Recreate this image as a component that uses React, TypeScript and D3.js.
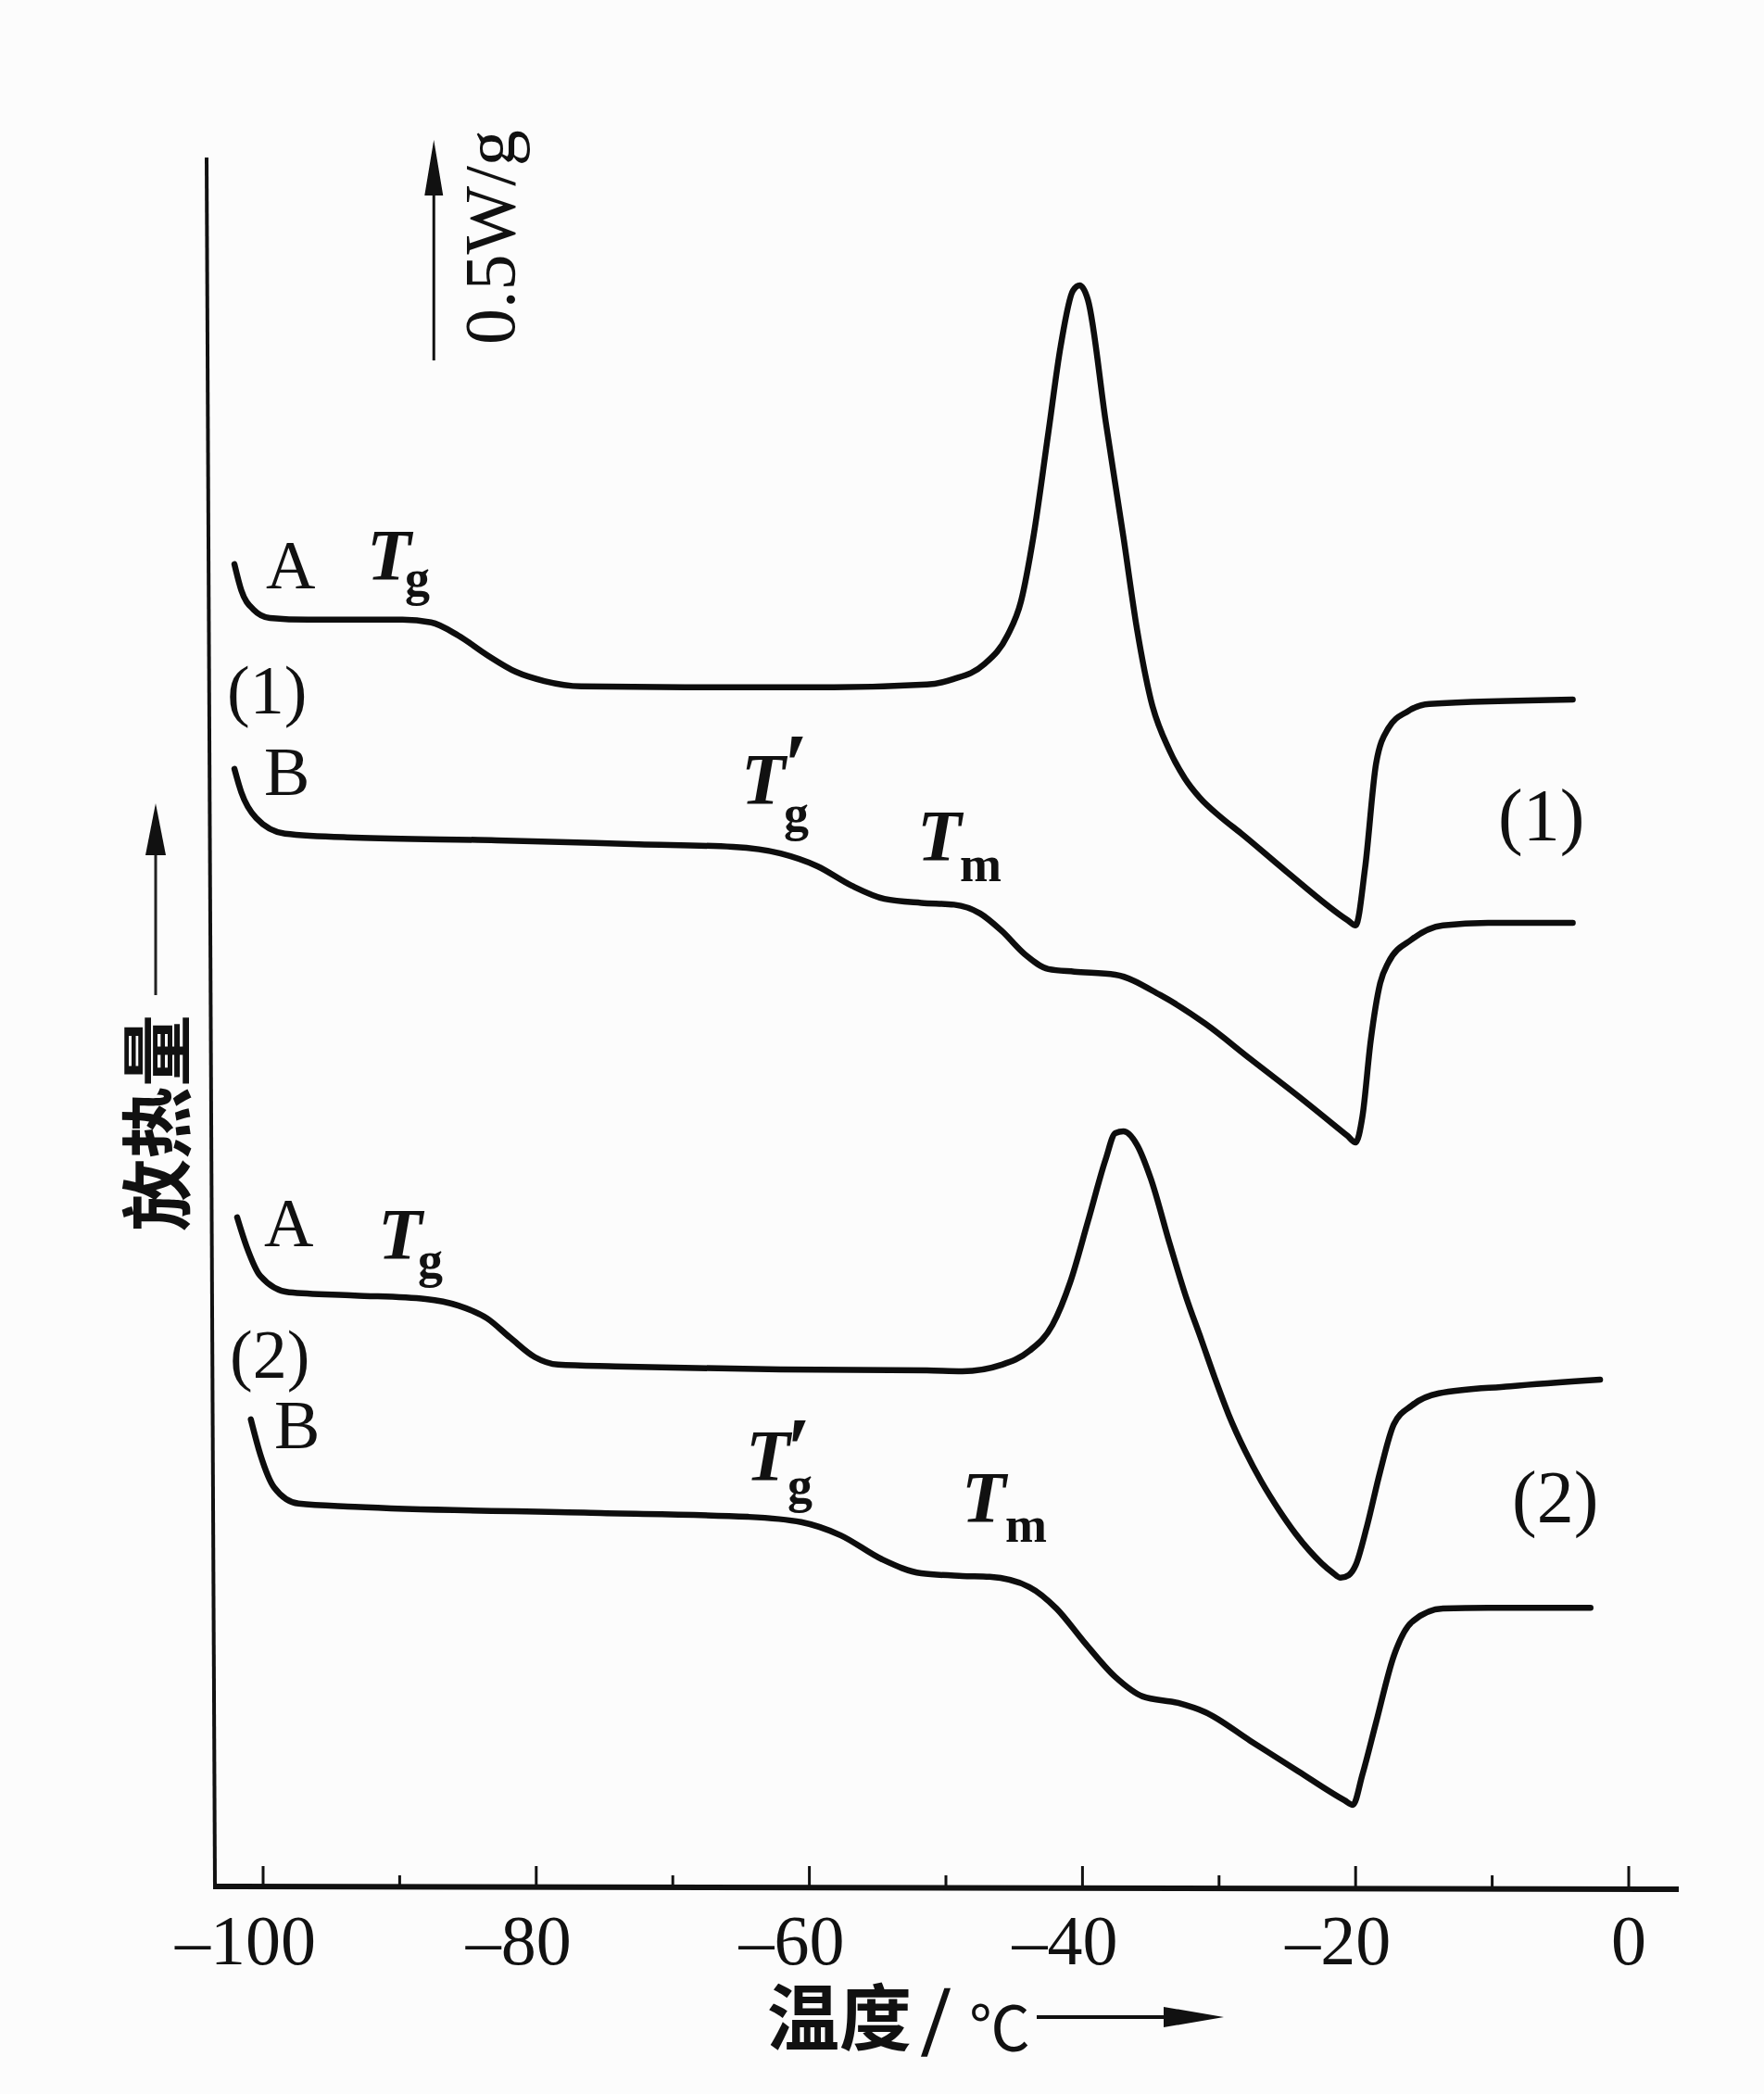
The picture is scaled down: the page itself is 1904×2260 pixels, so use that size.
import React from "react";
import * as d3 from "d3";

const W = 1904;
const H = 2260;

// DSC curves: [temperature °C, heat flow W/g (offset)]
const curve1A: [number, number][] = [
  [-102.1, 2.998], [-101.6, 2.939], [-100.7, 2.895], [-99.5, 2.876], [-96.7, 2.872],
  [-89.8, 2.872], [-87.7, 2.866], [-85.7, 2.836], [-83.6, 2.792], [-81.5, 2.754],
  [-79.4, 2.733], [-76.7, 2.721], [-69.1, 2.719], [-58.2, 2.719], [-51.4, 2.725],
  [-49.5, 2.737], [-47.2, 2.771], [-45.5, 2.836], [-44.5, 2.914], [-43.6, 3.059],
  [-42.5, 3.296], [-41.6, 3.492], [-40.7, 3.618], [-40.2, 3.630], [-39.6, 3.597],
  [-38.3, 3.321], [-37.0, 3.059], [-36.0, 2.849], [-35.0, 2.691], [-33.6, 2.574],
  [-32.5, 2.512], [-31.4, 2.468], [-29.9, 2.425], [-28.4, 2.388], [-25.1, 2.302],
  [-20.6, 2.191], [-20.0, 2.179],
  [-19.3, 2.311], [-18.5, 2.546], [-17.6, 2.626], [-16.2, 2.664], [-14.6, 2.681],
  [-4.1, 2.691],
];

const curve1B: [number, number][] = [
  [-102.1, 2.534], [-101.6, 2.481], [-100.5, 2.422], [-98.4, 2.387], [-93.3, 2.378],
  [-82.9, 2.372], [-72.5, 2.363], [-65.6, 2.357], [-62.1, 2.342], [-59.4, 2.313],
  [-56.9, 2.269], [-54.5, 2.239], [-51.8, 2.230], [-49.4, 2.226], [-47.5, 2.206],
  [-45.9, 2.166], [-44.2, 2.113], [-42.5, 2.080], [-40.6, 2.074], [-37.6, 2.067],
  [-34.3, 2.021], [-31.0, 1.956], [-27.7, 1.876], [-24.2, 1.792], [-20.6, 1.702],
  [-20.0, 1.687], [-19.5, 1.746], [-18.9, 1.916], [-18.2, 2.048], [-17.6, 2.095],
  [-15.9, 2.147], [-13.6, 2.179], [-10.3, 2.185], [-4.1, 2.185],
];

const curve2A: [number, number][] = [
  [-101.9, 1.517], [-101.2, 1.450], [-100.2, 1.384], [-98.1, 1.347], [-93.3, 1.340],
  [-88.1, 1.332], [-85.7, 1.317], [-83.6, 1.288], [-81.9, 1.244], [-80.1, 1.200],
  [-78.4, 1.183], [-74.2, 1.179], [-62.1, 1.172], [-51.4, 1.170], [-48.8, 1.168],
  [-45.9, 1.183], [-43.9, 1.214], [-42.2, 1.273], [-40.9, 1.370], [-39.6, 1.508],
  [-38.3, 1.649], [-37.6, 1.708], [-37.0, 1.712], [-36.0, 1.681], [-35.0, 1.605],
  [-33.6, 1.456], [-32.4, 1.335], [-31.3, 1.240], [-30.3, 1.152], [-29.3, 1.070],
  [-28.1, 0.988], [-26.9, 0.918], [-25.6, 0.853], [-24.4, 0.800], [-23.4, 0.762],
  [-22.5, 0.733], [-21.7, 0.712], [-21.1, 0.700], [-20.5, 0.706], [-20.0, 0.728],
  [-19.2, 0.813], [-18.2, 0.941],
  [-17.2, 1.048], [-15.9, 1.090], [-13.9, 1.118], [-8.7, 1.134], [-2.1, 1.149],
];

const curve2B: [number, number][] = [
  [-100.9, 1.059], [-100.2, 0.979], [-99.2, 0.905], [-97.4, 0.868], [-93.3, 0.861],
  [-76.0, 0.847], [-64.5, 0.838], [-60.6, 0.826], [-57.7, 0.796], [-54.7, 0.742],
  [-51.8, 0.710], [-48.8, 0.704], [-46.8, 0.702], [-43.9, 0.679], [-41.9, 0.630],
  [-39.9, 0.555], [-37.6, 0.475], [-35.6, 0.431], [-33.0, 0.416], [-31.0, 0.395],
  [-27.7, 0.330], [-24.2, 0.261], [-20.8, 0.195], [-20.2, 0.185], [-19.5, 0.254],
  [-18.5, 0.372], [-17.2, 0.523], [-15.9, 0.599], [-13.6, 0.630], [-10.3, 0.632],
  [-2.8, 0.632],
];

const curves = [curve1A, curve1B, curve2A, curve2B];

const majorTicks = [-100, -80, -60, -40, -20, 0];
const minorTicks = [-90, -70, -50, -30, -10];
const tickLabels = ["–100", "–80", "–60", "–40", "–20", "0"];

const scaleBarT = -87.5;
const scaleBarBase = 3.46;
const scaleBarLen = 0.5; // W/g
const scaleBarLabel = "0.5W/g";

const xTitleCJK = "温度";
const yTitle = "放热量";

const SERIF = "'Liberation Serif', 'Times New Roman', serif";
const CJK = "'Noto Sans CJK SC', 'Noto Sans', sans-serif";

const xScale = d3.scaleLinear().domain([-100, 0]).range([284, 1758]);
const yScale = d3.scaleLinear().domain([0, 3.92]).range([2036, 170]);

const lineGen = d3
  .line<[number, number]>()
  .x((d) => xScale(d[0]))
  .y((d) => yScale(d[1]))
  .curve(d3.curveMonotoneX);

type Plain = { t: string; x: number; y: number; s: number };
const plainLabels: Plain[] = [
  { t: "A", x: 287, y: 635, s: 74 },
  { t: "(1)", x: 245, y: 770, s: 74 },
  { t: "B", x: 285, y: 858, s: 74 },
  { t: "(1)", x: 1617, y: 907, s: 80 },
  { t: "A", x: 285, y: 1345, s: 74 },
  { t: "(2)", x: 248, y: 1487, s: 74 },
  { t: "B", x: 296, y: 1563, s: 74 },
  { t: "(2)", x: 1632, y: 1643, s: 80 },
];

// temperature symbols: T (+prime) with subscript
type Sym = { sub: string; prime: boolean; x: number; y: number; sx: number; sy: number; px?: number; py?: number };
const symbols: Sym[] = [
  { sub: "g", prime: false, x: 396, y: 625, sx: 437, sy: 642 },
  { sub: "g", prime: true, x: 800, y: 867, sx: 846, sy: 896, px: 846, py: 858 },
  { sub: "m", prime: false, x: 990, y: 928, sx: 1036, sy: 951 },
  { sub: "g", prime: false, x: 408, y: 1358, sx: 451, sy: 1378 },
  { sub: "g", prime: true, x: 805, y: 1597, sx: 850, sy: 1621, px: 849, py: 1596 },
  { sub: "m", prime: false, x: 1038, y: 1642, sx: 1085, sy: 1664 },
];

export default function App() {
  const axisY = yScale(0);
  const sbX = xScale(scaleBarT);
  const sbY0 = yScale(scaleBarBase);
  const sbY1 = yScale(scaleBarBase + scaleBarLen);
  return (
    <svg
      width={W}
      height={H}
      viewBox={`0 0 ${W} ${H}`}
      style={{ position: "absolute", left: 0, top: 0, display: "block", background: "#fcfcfc" }}
    >
      <rect x={0} y={0} width={W} height={H} fill="#fcfcfc" />
      {/* axes */}
      <line x1={223} y1={170} x2={232} y2={axisY + 2} stroke="#111" strokeWidth={4} />
      <line x1={230} y1={axisY} x2={1812} y2={axisY + 3} stroke="#111" strokeWidth={6} />
      {majorTicks.map((t) => (
        <line key={"M" + t} x1={xScale(t)} x2={xScale(t)} y1={axisY} y2={axisY - 22} stroke="#111" strokeWidth={3} />
      ))}
      {minorTicks.map((t) => (
        <line key={"m" + t} x1={xScale(t)} x2={xScale(t)} y1={axisY} y2={axisY - 12} stroke="#111" strokeWidth={3} />
      ))}
      {majorTicks.map((t, i) => {
        const digits = tickLabels[i].replace("–", "").length;
        return (
          <text
            key={"l" + t}
            x={xScale(t) + digits * 19}
            y={2120}
            textAnchor="end"
            fontFamily={SERIF}
            fontSize={76}
            fill="#111"
          >
            {tickLabels[i]}
          </text>
        );
      })}
      {/* x title */}
      <text x={828} y={2207} fontFamily={CJK} fontWeight={700} fontSize={78} fill="#111">
        {xTitleCJK}
      </text>
      <text x={995} y={2218} fontFamily={SERIF} fontSize={108} fill="#111" stroke="#111" strokeWidth={1.5}>
        /
      </text>
      <text x={1046} y={2213} fontFamily={CJK} fontSize={66} fill="#111">
        ℃
      </text>
      <line x1={1119} y1={2177} x2={1270} y2={2177} stroke="#111" strokeWidth={4} />
      <polygon points="1321,2177 1256,2166 1256,2188" fill="#111" />
      {/* y title */}
      <text
        transform="translate(199,1212) rotate(-90)"
        textAnchor="middle"
        fontFamily={CJK}
        fontWeight={700}
        fontSize={78}
        fill="#111"
      >
        {yTitle}
      </text>
      <line x1={168} y1={1074} x2={168} y2={910} stroke="#222" strokeWidth={3} />
      <polygon points="168,867 157,923 179,923" fill="#111" />
      {/* scale bar */}
      <line x1={sbX} y1={sbY0} x2={sbX} y2={sbY1 + 40} stroke="#111" strokeWidth={3} />
      <polygon points={`${sbX},${sbY1} ${sbX - 10},${sbY1 + 60} ${sbX + 10},${sbY1 + 60}`} fill="#111" />
      <text
        transform={`translate(555,${sbY0 - 17}) rotate(-90)`}
        fontFamily={SERIF}
        fontSize={78}
        fill="#111"
      >
        {scaleBarLabel}
      </text>
      {/* curves */}
      {curves.map((c, i) => (
        <path key={i} d={lineGen(c) || ""} fill="none" stroke="#0d0d0d" strokeWidth={6.5} strokeLinejoin="round" strokeLinecap="round" />
      ))}
      {/* labels */}
      {plainLabels.map((l, i) => (
        <text key={"pl" + i} x={l.x} y={l.y} fontFamily={SERIF} fontSize={l.s} fill="#111">
          {l.t}
        </text>
      ))}
      {symbols.map((s, i) => (
        <text key={"sym" + i} fontFamily={SERIF} fontWeight={700} fill="#111">
          <tspan x={s.x} y={s.y} fontSize={78} fontStyle="italic">
            T
          </tspan>
          {s.prime ? (
            <tspan x={s.px} y={s.py} fontSize={96}>
              ′
            </tspan>
          ) : null}
          <tspan x={s.sx} y={s.sy} fontSize={54}>
            {s.sub}
          </tspan>
        </text>
      ))}
    </svg>
  );
}
